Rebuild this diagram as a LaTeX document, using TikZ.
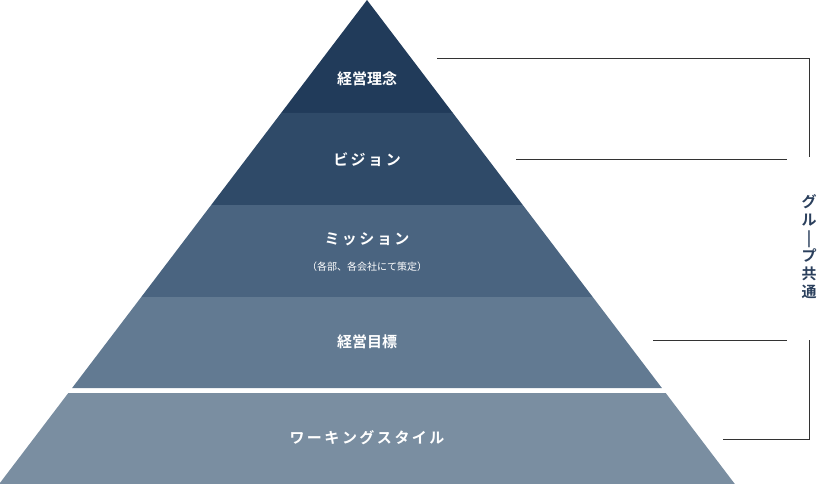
\documentclass[tikz,border=0pt]{standalone}
\usepackage{fontspec}
\newfontfamily\jp{Noto Sans CJK JP}
\newfontfamily\jpb{Noto Sans CJK JP Bold}
\definecolor{c1}{HTML}{213B5A}
\definecolor{c2}{HTML}{2F4A68}
\definecolor{c3}{HTML}{4A6480}
\definecolor{c4}{HTML}{627A92}
\definecolor{c5}{HTML}{7A8EA1}
\definecolor{ln}{HTML}{333333}
\definecolor{tx}{HTML}{2A3F5C}
\begin{document}
\begin{tikzpicture}[x=1pt,y=-1pt,
  lbl/.style={text=white,font=\jpb\fontsize{15}{18}\selectfont},
  sub/.style={text=white,font=\jp\fontsize{10}{12}\selectfont},
  br/.style={draw=ln,line width=0.8pt}]
\useasboundingbox (0,0) rectangle (838,484);
\def\L#1{\fpeval{367-0.76*#1}}\def\R#1{\fpeval{367+0.76*#1}}
\fill[c1] (367,0) -- (\R{113},113) -- (\L{113},113) -- cycle;
\fill[c2] (\L{113},113) -- (\R{113},113) -- (\R{205},205) -- (\L{205},205) -- cycle;
\fill[c3] (\L{205},205) -- (\R{205},205) -- (\R{297},297) -- (\L{297},297) -- cycle;
\fill[c4] (\L{297},297) -- (\R{297},297) -- (\R{388},388) -- (\L{388},388) -- cycle;
\fill[c5] (\L{393},393) -- (\R{393},393) -- (\R{484},484) -- (\L{484},484) -- cycle;
\node[lbl] (a) at (367,79) {経営理念};
\node[lbl] (b) at (367,160) {ビ\,ジ\,ョ\,ン};
\node[lbl] (c) at (367,239) {ミ\,ッ\,シ\,ョ\,ン};
\node[sub] (c2) at (367,267) {（各部、各会社にて策定）};
\node[lbl] (d) at (367,342) {経営目標};
\node[lbl] (e) at (367,438) {ワ\,ー\,キ\,ン\,グ\,ス\,タ\,イ\,ル};
\node[text=tx,font=\jpb\fontsize{15}{18}\selectfont,align=center,inner sep=0pt] (g) at (809,247) {グ\\ル\\|\\プ\\共\\通};
\coordinate (t1) at (437,58); \coordinate (t2) at (809,58); \coordinate (t3) at (809,157);
\coordinate (m1) at (516,159); \coordinate (m2) at (787,159);
\coordinate (n1) at (653,340); \coordinate (n2) at (787,340);
\coordinate (u1) at (809,340); \coordinate (u2) at (809,439); \coordinate (u3) at (723,439);
\draw[br] (t1) -- (t2) -- (t3);
\draw[br] (m1) -- (m2);
\draw[br] (n1) -- (n2);
\draw[br] (u1) -- (u2) -- (u3);
\end{tikzpicture}
\end{document}
